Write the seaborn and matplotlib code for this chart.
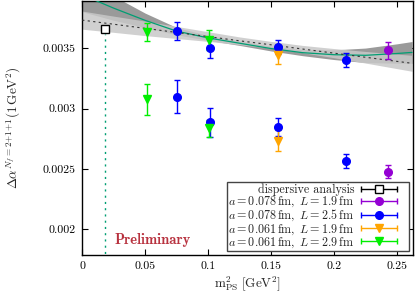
import numpy as np
import pandas as pd
import matplotlib
matplotlib.use("Agg")
import matplotlib.pyplot as plt
import seaborn as sns
from matplotlib.lines import Line2D
from matplotlib.legend_handler import HandlerBase

# ---------------- data ----------------
disp_x = [0.0183]
disp_y = [0.003657]
disp_err = [0.000012]

p_x = [0.243, 0.243]
p_y = [0.003483, 0.002478]
p_err = [0.000070, 0.000056]

b_x = [0.0751, 0.0751, 0.1016, 0.1016, 0.1556, 0.1556, 0.2098, 0.2098]
b_y = [0.003643, 0.003098, 0.003497, 0.002886, 0.003511, 0.002845, 0.003401, 0.002567]
b_err = [0.000076, 0.000138, 0.000083, 0.000120, 0.000058, 0.000075, 0.000055, 0.000060]

o_x = [0.1556, 0.1556]
o_y = [0.003442, 0.002734]
o_err = [0.000072, 0.000087]

g_x = [0.0513, 0.0513, 0.1008, 0.1008]
g_y = [0.003635, 0.003076, 0.003566, 0.002837]
g_err = [0.000075, 0.000130, 0.000085, 0.000070]

band_x = [0.0, 0.025, 0.05, 0.075, 0.1, 0.125, 0.15, 0.175, 0.2, 0.225, 0.25, 0.262]
curve_y = [0.00394, 0.00383, 0.003729, 0.00364, 0.003584, 0.00354, 0.003496,
           0.003462, 0.003445, 0.00344, 0.003455, 0.003464]
curve_hw = [0.00014, 0.00010, 0.00006, 0.00003, 0.00002, 0.000018, 0.00002,
            0.000025, 0.00004, 0.00006, 0.00008, 0.00009]
lin_y = [0.003731, 0.003697, 0.003663, 0.003629, 0.003595, 0.00356, 0.003527,
         0.003492, 0.003458, 0.003424, 0.00339, 0.003374]
lin_hw = [0.000075, 0.000067, 0.00006, 0.00005, 0.00004, 0.000032, 0.000028,
          0.00003, 0.000038, 0.000048, 0.00006, 0.000066]

xticks = [0, 0.05, 0.1, 0.15, 0.2, 0.25]
xtick_labels = ["0", "0.05", "0.1", "0.15", "0.2", "0.25"]
yticks = [0.002, 0.0025, 0.003, 0.0035]
ytick_labels = ["0.002", "0.0025", "0.003", "0.0035"]

labels = ["dispersive analysis",
          r"$a = 0.078\,\mathrm{fm},\; L = 1.9\,\mathrm{fm}$",
          r"$a = 0.078\,\mathrm{fm},\; L = 2.5\,\mathrm{fm}$",
          r"$a = 0.061\,\mathrm{fm},\; L = 1.9\,\mathrm{fm}$",
          r"$a = 0.061\,\mathrm{fm},\; L = 2.9\,\mathrm{fm}$"]

# ---------------- style ----------------
sns.set_theme(style="ticks")
plt.rcParams["font.family"] = ["cmr10", "DejaVu Serif"]
plt.rcParams["mathtext.fontset"] = "cm"
plt.rcParams["axes.formatter.use_mathtext"] = True
plt.rcParams["font.size"] = 8

fig = plt.figure(figsize=(4.15, 2.94), dpi=100)
ax = fig.add_axes([0.198, 0.133, 0.797, 0.864])

fit_green = "#009e73"
c_purple = "#9400d3"
c_blue = "#0000ff"
c_orange = "#ffa500"
c_green = "#00ee00"

# bands
ax.fill_between(band_x, np.array(curve_y) - np.array(curve_hw),
                np.array(curve_y) + np.array(curve_hw),
                color="#9a9a9a", lw=0, zorder=1)
ax.fill_between(band_x, np.array(lin_y) - np.array(lin_hw),
                np.array(lin_y) + np.array(lin_hw),
                color="#c8c8c8", alpha=0.85, lw=0, zorder=2)

df_curve = pd.DataFrame({"x": band_x, "y": curve_y})
df_lin = pd.DataFrame({"x": band_x, "y": lin_y})
sns.lineplot(data=df_curve, x="x", y="y", ax=ax, color=fit_green, lw=0.9, zorder=3)
sns.lineplot(data=df_lin, x="x", y="y", ax=ax, color="#333333", lw=0.8,
             dashes=False, zorder=3).lines[-1].set_dashes((2, 3))

# dispersive vertical line
ax.vlines(disp_x[0], 0.0017, disp_y[0] - 0.00004, colors=fit_green,
          linestyles=(0, (1.5, 3)), lw=1.0, zorder=3)

ekw = dict(elinewidth=1.0, capsize=2.0, capthick=1.0, linestyle="none", zorder=5)
ax.errorbar(disp_x, disp_y, yerr=disp_err, marker="s", ms=6.0, mfc="white",
            mec="black", mew=1.0, color="black", **ekw)
ax.errorbar(p_x, p_y, yerr=p_err, marker="o", ms=5.5, color=c_purple, **ekw)
ax.errorbar(b_x, b_y, yerr=b_err, marker="o", ms=5.5, color=c_blue, **ekw)
ax.errorbar(o_x, o_y, yerr=o_err, marker="v", ms=5.5, color=c_orange, **ekw)
ax.errorbar(g_x, g_y, yerr=g_err, marker="v", ms=5.5, color=c_green, **ekw)

ax.set_xlim(0, 0.2627)
ax.set_ylim(0.00179, 0.00389)
ax.set_xticks(xticks)
ax.set_xticklabels(xtick_labels)
ax.set_yticks(yticks)
ax.set_yticklabels(ytick_labels)
ax.tick_params(direction="in", length=4, width=0.8, top=True, right=True,
               labelsize=8.5, pad=5, colors="black")
for s in ax.spines.values():
    s.set_linewidth(1.0)
    s.set_color("black")

ax.set_xlabel(r"$\mathrm{m}_{\mathrm{PS}}^2\;[\mathrm{GeV}^2]$", fontsize=9.5, labelpad=2)
ax.set_ylabel(r"$\Delta\alpha^{N_f{=}2{+}1{+}1}(1\,\mathrm{GeV}^2)$", fontsize=9.5,
              labelpad=14)

ax.text(0.0254, 0.001912, "Preliminary", color="#b8323f", fontsize=10.5,
        fontfamily=["cmb10", "DejaVu Serif"], va="center", ha="left", zorder=6)


# legend
class ErrHandler(HandlerBase):
    def create_artists(self, legend, orig, xd, yd, w, h, fontsize, trans):
        x0 = -xd
        x1 = -xd + w * 0.76
        yc = h / 2 - yd
        col = orig.get_color()
        line = Line2D([x0, x1], [yc, yc], color=col, lw=1.0)
        caps = Line2D([x0, x1], [yc, yc], color=col, marker="|", ms=4,
                      mew=1.0, linestyle="none")
        mk = Line2D([(x0 + x1) / 2], [yc], marker=orig.get_marker(),
                    ms=orig.get_markersize(), color=col,
                    mfc=orig.get_markerfacecolor(), mec=orig.get_markeredgecolor(),
                    mew=orig.get_markeredgewidth(), linestyle="none")
        for a in (line, caps, mk):
            a.set_transform(trans)
        return [line, caps, mk]


handles = [
    Line2D([], [], color="black", marker="s", ms=6.0, mfc="white", mec="black", mew=1.0),
    Line2D([], [], color=c_purple, marker="o", ms=5.5, mfc=c_purple, mec=c_purple),
    Line2D([], [], color=c_blue, marker="o", ms=5.5, mfc=c_blue, mec=c_blue),
    Line2D([], [], color=c_orange, marker="v", ms=5.5, mfc=c_orange, mec=c_orange),
    Line2D([], [], color=c_green, marker="v", ms=5.5, mfc=c_green, mec=c_green),
]
leg = ax.legend(handles, labels, loc="lower right", bbox_to_anchor=(1.0, 0.0),
                markerfirst=False, fontsize=8.7, handlelength=3.9, handletextpad=0.55,
                labelspacing=-0.1, borderpad=0.12, borderaxespad=0.3,
                fancybox=False, framealpha=1, edgecolor="#444444",
                handler_map={Line2D: ErrHandler()})
leg.get_frame().set_linewidth(1.0)
leg.set_zorder(10)

fig.savefig("out.png", dpi=100)
